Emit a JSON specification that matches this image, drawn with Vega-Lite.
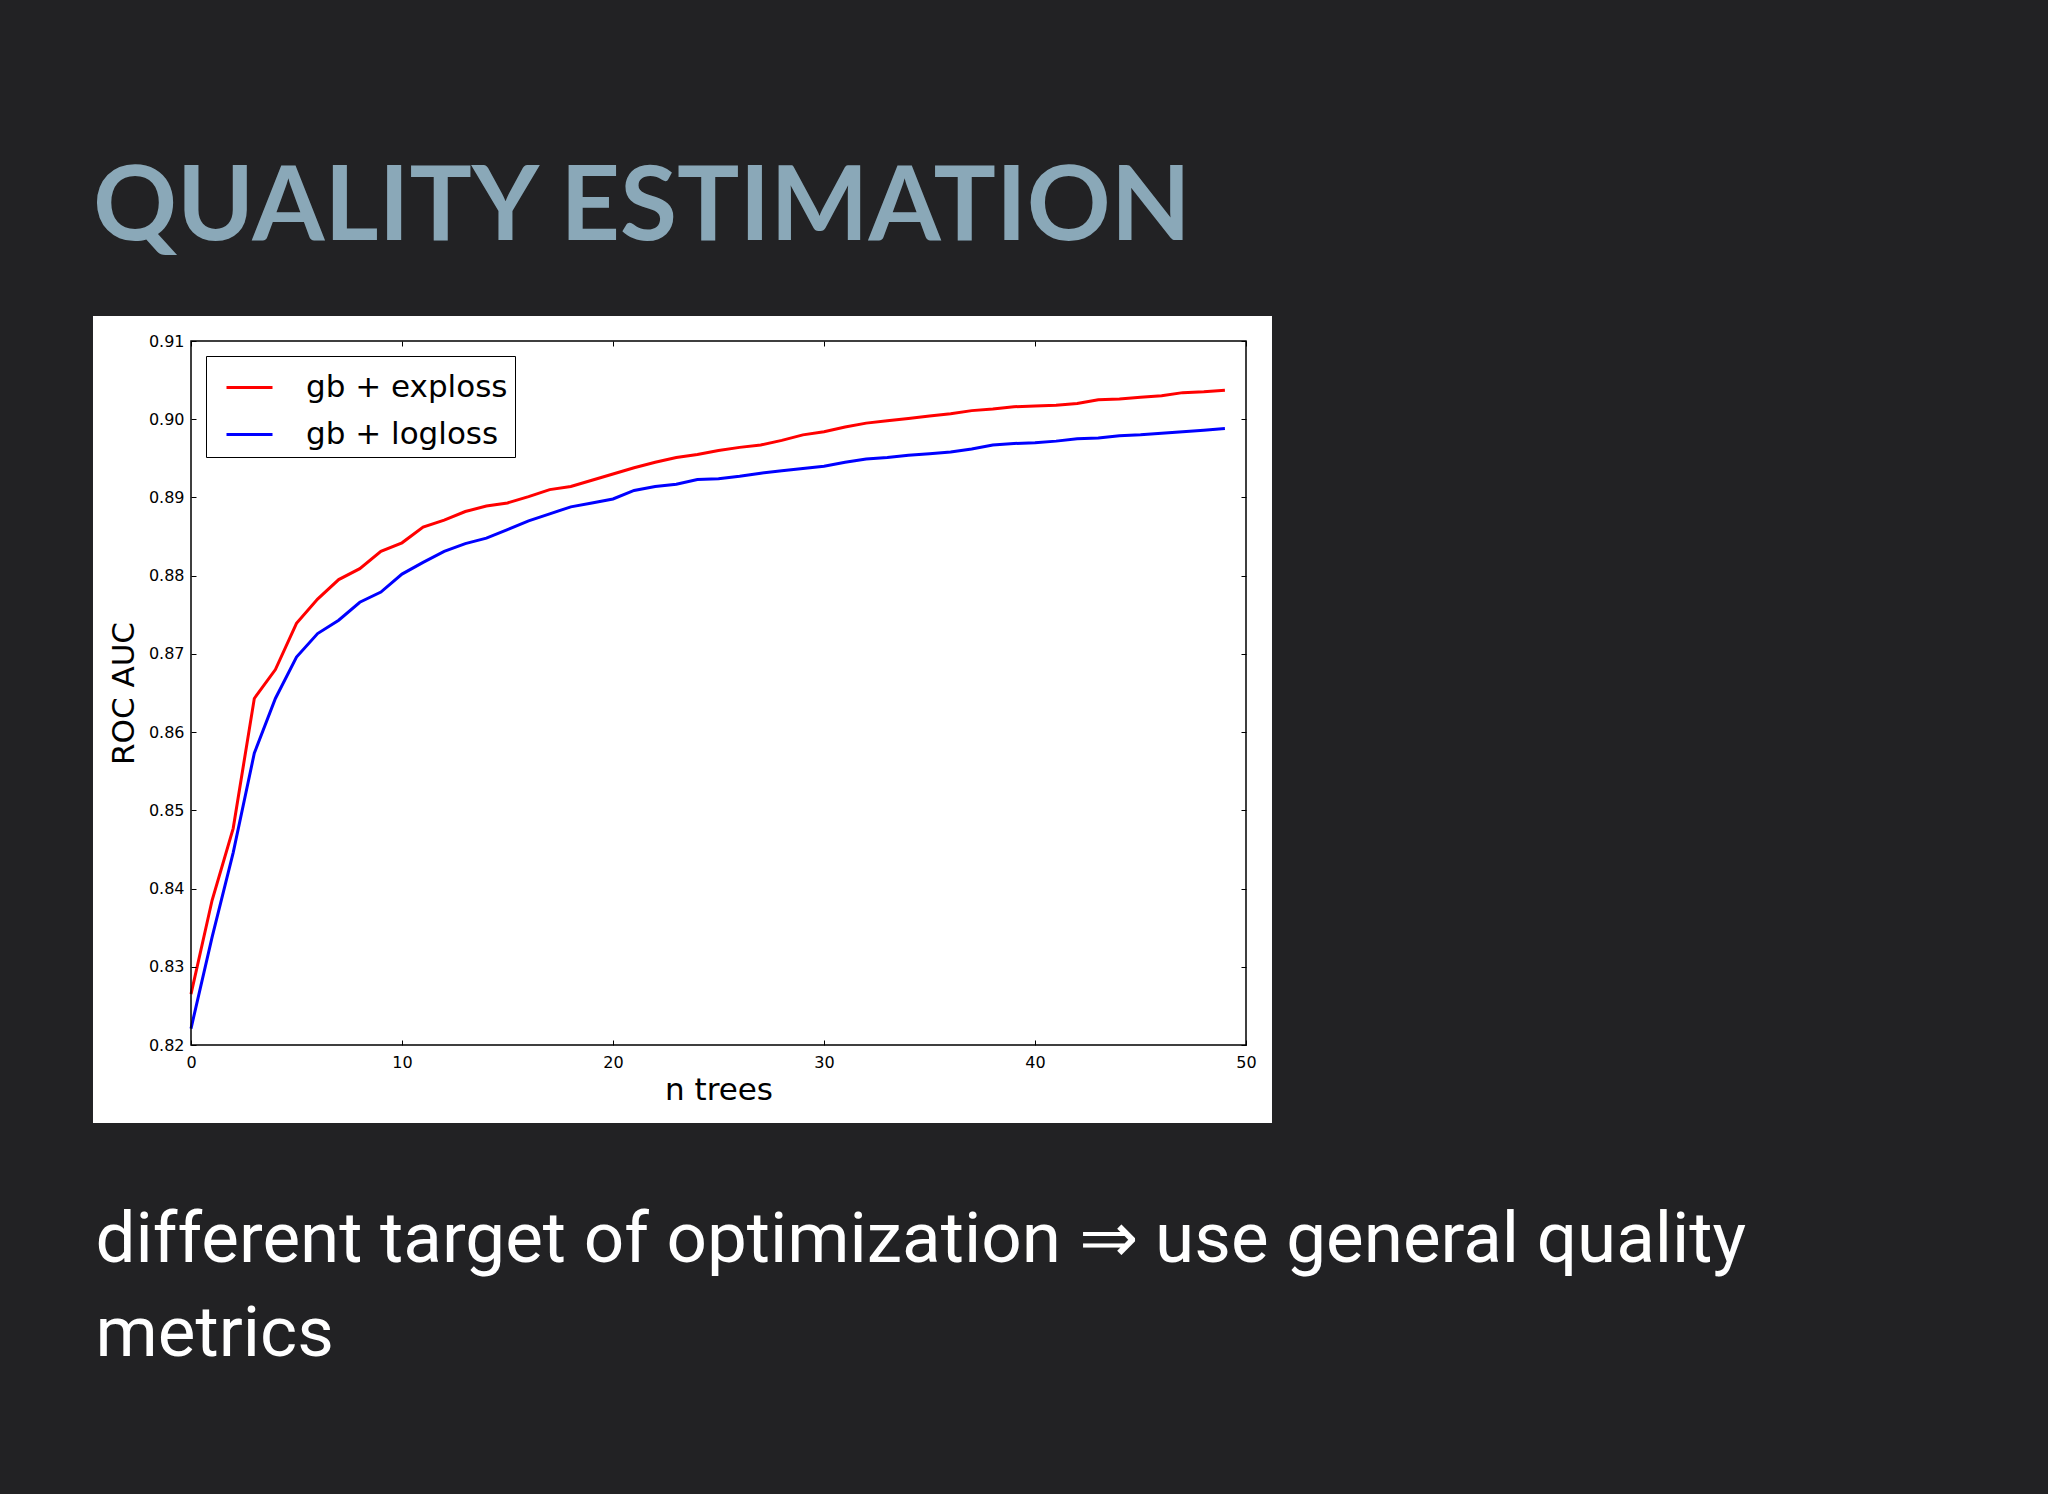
{
  "$schema": "https://vega.github.io/schema/vega-lite/v6.json",
  "width": 1055,
  "height": 704,
  "autosize": {"type": "none"},
  "padding": {"left": 191, "top": 341, "right": 802, "bottom": 449},
  "background": "#222224",
  "title": {
    "text": "QUALITY ESTIMATION",
    "anchor": "start",
    "frame": "bounds",
    "font": "Lato",
    "fontWeight": 700,
    "fontSize": 104,
    "color": "#8aa8b8",
    "baseline": "alphabetic",
    "offset": -28
  },
  "config": {
    "view": {"stroke": null},
    "axis": {"grid": false}
  },
  "datasets": {
    "auc": [
      {"n": 0, "auc": 0.8265, "model": "gb + exploss"},
      {"n": 1, "auc": 0.8385, "model": "gb + exploss"},
      {"n": 2, "auc": 0.8477, "model": "gb + exploss"},
      {"n": 3, "auc": 0.8643, "model": "gb + exploss"},
      {"n": 4, "auc": 0.8680, "model": "gb + exploss"},
      {"n": 5, "auc": 0.8739, "model": "gb + exploss"},
      {"n": 6, "auc": 0.8770, "model": "gb + exploss"},
      {"n": 7, "auc": 0.8795, "model": "gb + exploss"},
      {"n": 8, "auc": 0.8809, "model": "gb + exploss"},
      {"n": 9, "auc": 0.8831, "model": "gb + exploss"},
      {"n": 10, "auc": 0.8842, "model": "gb + exploss"},
      {"n": 11, "auc": 0.8862, "model": "gb + exploss"},
      {"n": 12, "auc": 0.8871, "model": "gb + exploss"},
      {"n": 13, "auc": 0.8882, "model": "gb + exploss"},
      {"n": 14, "auc": 0.8889, "model": "gb + exploss"},
      {"n": 15, "auc": 0.8893, "model": "gb + exploss"},
      {"n": 16, "auc": 0.8901, "model": "gb + exploss"},
      {"n": 17, "auc": 0.8910, "model": "gb + exploss"},
      {"n": 18, "auc": 0.8914, "model": "gb + exploss"},
      {"n": 19, "auc": 0.8922, "model": "gb + exploss"},
      {"n": 20, "auc": 0.8930, "model": "gb + exploss"},
      {"n": 21, "auc": 0.8938, "model": "gb + exploss"},
      {"n": 22, "auc": 0.8945, "model": "gb + exploss"},
      {"n": 23, "auc": 0.8951, "model": "gb + exploss"},
      {"n": 24, "auc": 0.8955, "model": "gb + exploss"},
      {"n": 25, "auc": 0.8960, "model": "gb + exploss"},
      {"n": 26, "auc": 0.8964, "model": "gb + exploss"},
      {"n": 27, "auc": 0.8967, "model": "gb + exploss"},
      {"n": 28, "auc": 0.8973, "model": "gb + exploss"},
      {"n": 29, "auc": 0.8980, "model": "gb + exploss"},
      {"n": 30, "auc": 0.8984, "model": "gb + exploss"},
      {"n": 31, "auc": 0.8990, "model": "gb + exploss"},
      {"n": 32, "auc": 0.8995, "model": "gb + exploss"},
      {"n": 33, "auc": 0.8998, "model": "gb + exploss"},
      {"n": 34, "auc": 0.9001, "model": "gb + exploss"},
      {"n": 35, "auc": 0.9004, "model": "gb + exploss"},
      {"n": 36, "auc": 0.9007, "model": "gb + exploss"},
      {"n": 37, "auc": 0.9011, "model": "gb + exploss"},
      {"n": 38, "auc": 0.9013, "model": "gb + exploss"},
      {"n": 39, "auc": 0.9016, "model": "gb + exploss"},
      {"n": 40, "auc": 0.9017, "model": "gb + exploss"},
      {"n": 41, "auc": 0.9018, "model": "gb + exploss"},
      {"n": 42, "auc": 0.9020, "model": "gb + exploss"},
      {"n": 43, "auc": 0.9025, "model": "gb + exploss"},
      {"n": 44, "auc": 0.9026, "model": "gb + exploss"},
      {"n": 45, "auc": 0.9028, "model": "gb + exploss"},
      {"n": 46, "auc": 0.9030, "model": "gb + exploss"},
      {"n": 47, "auc": 0.9034, "model": "gb + exploss"},
      {"n": 48, "auc": 0.9035, "model": "gb + exploss"},
      {"n": 49, "auc": 0.9037, "model": "gb + exploss"},
      {"n": 0, "auc": 0.8221, "model": "gb + logloss"},
      {"n": 1, "auc": 0.8338, "model": "gb + logloss"},
      {"n": 2, "auc": 0.8446, "model": "gb + logloss"},
      {"n": 3, "auc": 0.8573, "model": "gb + logloss"},
      {"n": 4, "auc": 0.8643, "model": "gb + logloss"},
      {"n": 5, "auc": 0.8696, "model": "gb + logloss"},
      {"n": 6, "auc": 0.8726, "model": "gb + logloss"},
      {"n": 7, "auc": 0.8743, "model": "gb + logloss"},
      {"n": 8, "auc": 0.8766, "model": "gb + logloss"},
      {"n": 9, "auc": 0.8779, "model": "gb + logloss"},
      {"n": 10, "auc": 0.8802, "model": "gb + logloss"},
      {"n": 11, "auc": 0.8817, "model": "gb + logloss"},
      {"n": 12, "auc": 0.8831, "model": "gb + logloss"},
      {"n": 13, "auc": 0.8841, "model": "gb + logloss"},
      {"n": 14, "auc": 0.8848, "model": "gb + logloss"},
      {"n": 15, "auc": 0.8859, "model": "gb + logloss"},
      {"n": 16, "auc": 0.8870, "model": "gb + logloss"},
      {"n": 17, "auc": 0.8879, "model": "gb + logloss"},
      {"n": 18, "auc": 0.8888, "model": "gb + logloss"},
      {"n": 19, "auc": 0.8893, "model": "gb + logloss"},
      {"n": 20, "auc": 0.8898, "model": "gb + logloss"},
      {"n": 21, "auc": 0.8909, "model": "gb + logloss"},
      {"n": 22, "auc": 0.8914, "model": "gb + logloss"},
      {"n": 23, "auc": 0.8917, "model": "gb + logloss"},
      {"n": 24, "auc": 0.8923, "model": "gb + logloss"},
      {"n": 25, "auc": 0.8924, "model": "gb + logloss"},
      {"n": 26, "auc": 0.8927, "model": "gb + logloss"},
      {"n": 27, "auc": 0.8931, "model": "gb + logloss"},
      {"n": 28, "auc": 0.8934, "model": "gb + logloss"},
      {"n": 29, "auc": 0.8937, "model": "gb + logloss"},
      {"n": 30, "auc": 0.8940, "model": "gb + logloss"},
      {"n": 31, "auc": 0.8945, "model": "gb + logloss"},
      {"n": 32, "auc": 0.8949, "model": "gb + logloss"},
      {"n": 33, "auc": 0.8951, "model": "gb + logloss"},
      {"n": 34, "auc": 0.8954, "model": "gb + logloss"},
      {"n": 35, "auc": 0.8956, "model": "gb + logloss"},
      {"n": 36, "auc": 0.8958, "model": "gb + logloss"},
      {"n": 37, "auc": 0.8962, "model": "gb + logloss"},
      {"n": 38, "auc": 0.8967, "model": "gb + logloss"},
      {"n": 39, "auc": 0.8969, "model": "gb + logloss"},
      {"n": 40, "auc": 0.8970, "model": "gb + logloss"},
      {"n": 41, "auc": 0.8972, "model": "gb + logloss"},
      {"n": 42, "auc": 0.8975, "model": "gb + logloss"},
      {"n": 43, "auc": 0.8976, "model": "gb + logloss"},
      {"n": 44, "auc": 0.8979, "model": "gb + logloss"},
      {"n": 45, "auc": 0.8980, "model": "gb + logloss"},
      {"n": 46, "auc": 0.8982, "model": "gb + logloss"},
      {"n": 47, "auc": 0.8984, "model": "gb + logloss"},
      {"n": 48, "auc": 0.8986, "model": "gb + logloss"},
      {"n": 49, "auc": 0.8988, "model": "gb + logloss"}
    ]
  },
  "layer": [
    {
      "data": {"values": [{"panel": "figure"}]},
      "mark": {"type": "rect", "fill": "#ffffff", "clip": false},
      "encoding": {
        "x": {
          "datum": -4.645,
          "type": "quantitative",
          "scale": {"domain": [0, 50], "nice": false, "zero": false},
          "axis": {
            "orient": "bottom",
            "domain": false,
            "ticks": false,
            "labels": false,
            "grid": false,
            "title": ["different target of optimization ⇒ use general quality", "metrics"],
            "titleFont": "Roboto",
            "titleFontSize": 71,
            "titleFontWeight": 400,
            "titleColor": "#ffffff",
            "titleAlign": "left",
            "titleAnchor": "start",
            "titleBaseline": "alphabetic",
            "titleAngle": 0,
            "titleX": -96,
            "titleY": 216,
            "titleLineHeight": 94,
            "zindex": 1
          }
        },
        "x2": {"datum": 51.232},
        "y": {
          "datum": 0.81003,
          "type": "quantitative",
          "scale": {"domain": [0.82, 0.91], "nice": false, "zero": false},
          "axis": null
        },
        "y2": {"datum": 0.9132}
      }
    },
    {
      "data": {"name": "auc"},
      "mark": {"type": "line", "strokeWidth": 3, "clip": false},
      "encoding": {
        "x": {
          "field": "n",
          "type": "quantitative",
          "axis": {
            "orient": "bottom",
            "values": [0, 10, 20, 30, 40, 50],
            "domain": false,
            "ticks": true,
            "tickSize": -5,
            "tickColor": "#000000",
            "tickWidth": 1,
            "labelFlush": false,
            "labelPadding": 14,
            "labelFont": "DejaVu Sans",
            "labelFontSize": 16,
            "labelColor": "#000000",
            "title": "n trees",
            "titleFont": "DejaVu Sans",
            "titleFontSize": 31,
            "titleFontWeight": 400,
            "titleColor": "#000000",
            "titlePadding": 5,
            "zindex": 1
          }
        },
        "y": {
          "field": "auc",
          "type": "quantitative",
          "axis": {
            "orient": "left",
            "values": [0.82, 0.83, 0.84, 0.85, 0.86, 0.87, 0.88, 0.89, 0.90, 0.91],
            "format": ".2f",
            "domain": false,
            "ticks": true,
            "tickSize": -5,
            "tickColor": "#000000",
            "tickWidth": 1,
            "labelPadding": 12,
            "labelFont": "DejaVu Sans",
            "labelFontSize": 16,
            "labelColor": "#000000",
            "title": "ROC AUC",
            "titleFont": "DejaVu Sans",
            "titleFontSize": 31,
            "titleFontWeight": 400,
            "titleColor": "#000000",
            "titlePadding": 8,
            "zindex": 1
          }
        },
        "color": {
          "field": "model",
          "type": "nominal",
          "scale": {"domain": ["gb + exploss", "gb + logloss"], "range": ["#ff0000", "#0000ff"]},
          "legend": {
            "orient": "top-left",
            "offset": 15,
            "title": null,
            "symbolType": "stroke",
            "symbolStrokeWidth": 3,
            "symbolSize": 2116,
            "labelFont": "DejaVu Sans",
            "labelFontSize": 31,
            "labelColor": "#000000",
            "labelLimit": 500,
            "labelOffset": 32,
            "labelExpr": "datum.label + '\u00a0'",
            "padding": 7,
            "symbolOffset": 12,
            "rowPadding": 7,
            "strokeColor": "#000000",
            "fillColor": "#ffffff",
            "cornerRadius": 0
          }
        }
      }
    },
    {
      "data": {"values": [{"panel": "frame"}]},
      "mark": {"type": "rect", "fillOpacity": 0, "stroke": "#000000", "strokeWidth": 1.5, "clip": false},
      "encoding": {
        "x": {
          "datum": 0,
          "type": "quantitative",
          "axis": {
            "orient": "top",
            "values": [0, 10, 20, 30, 40, 50],
            "domain": false,
            "labels": false,
            "ticks": true,
            "tickSize": -5,
            "tickColor": "#000000",
            "tickWidth": 1,
            "title": null,
            "zindex": 1
          }
        },
        "x2": {"datum": 50},
        "y": {
          "datum": 0.82,
          "type": "quantitative",
          "axis": {
            "orient": "right",
            "values": [0.82, 0.83, 0.84, 0.85, 0.86, 0.87, 0.88, 0.89, 0.90, 0.91],
            "domain": false,
            "labels": false,
            "ticks": true,
            "tickSize": -5,
            "tickColor": "#000000",
            "tickWidth": 1,
            "title": null,
            "zindex": 1
          }
        },
        "y2": {"datum": 0.91}
      }
    }
  ],
  "resolve": {"axis": {"x": "independent", "y": "independent"}}
}
